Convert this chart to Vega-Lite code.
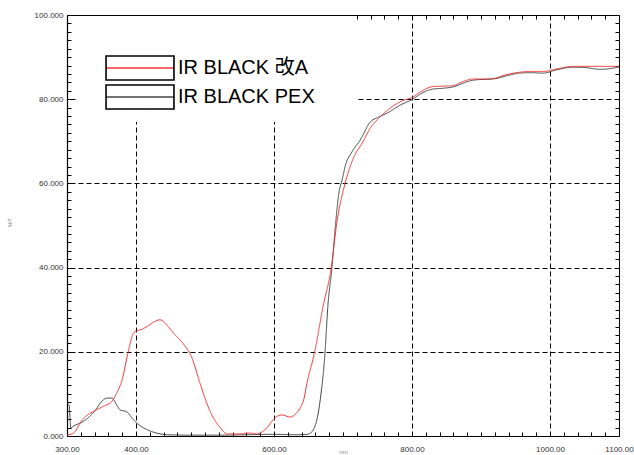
{
  "$schema": "https://vega.github.io/schema/vega-lite/v6.json",
  "width": 552,
  "height": 421,
  "autosize": {"type": "none"},
  "padding": {"left": 67, "top": 15, "right": 15, "bottom": 19},
  "background": "white",
  "config": {"view": {"stroke": null}, "font": "Liberation Sans"},
  "data": {"values": [
    {"nm": 300, "T": 7.8, "series": "IR BLACK PEX"},
    {"nm": 303, "T": 7.4, "series": "IR BLACK PEX"},
    {"nm": 305.5, "T": 1.9, "series": "IR BLACK PEX"},
    {"nm": 309, "T": 2.3, "series": "IR BLACK PEX"},
    {"nm": 324, "T": 3.5, "series": "IR BLACK PEX"},
    {"nm": 338, "T": 5.5, "series": "IR BLACK PEX"},
    {"nm": 353, "T": 8.6, "series": "IR BLACK PEX"},
    {"nm": 358, "T": 9.0, "series": "IR BLACK PEX"},
    {"nm": 365, "T": 9.0, "series": "IR BLACK PEX"},
    {"nm": 372, "T": 7.4, "series": "IR BLACK PEX"},
    {"nm": 377, "T": 6.2, "series": "IR BLACK PEX"},
    {"nm": 387, "T": 5.7, "series": "IR BLACK PEX"},
    {"nm": 394, "T": 4.3, "series": "IR BLACK PEX"},
    {"nm": 401, "T": 3.1, "series": "IR BLACK PEX"},
    {"nm": 416, "T": 1.5, "series": "IR BLACK PEX"},
    {"nm": 430, "T": 0.7, "series": "IR BLACK PEX"},
    {"nm": 445, "T": 0.3, "series": "IR BLACK PEX"},
    {"nm": 480, "T": 0.2, "series": "IR BLACK PEX"},
    {"nm": 520, "T": 0.2, "series": "IR BLACK PEX"},
    {"nm": 560, "T": 0.3, "series": "IR BLACK PEX"},
    {"nm": 600, "T": 0.4, "series": "IR BLACK PEX"},
    {"nm": 630, "T": 0.3, "series": "IR BLACK PEX"},
    {"nm": 648, "T": 0.4, "series": "IR BLACK PEX"},
    {"nm": 655, "T": 1.0, "series": "IR BLACK PEX"},
    {"nm": 659, "T": 2.2, "series": "IR BLACK PEX"},
    {"nm": 663, "T": 4.5, "series": "IR BLACK PEX"},
    {"nm": 667, "T": 8.6, "series": "IR BLACK PEX"},
    {"nm": 674, "T": 20, "series": "IR BLACK PEX"},
    {"nm": 678, "T": 30.7, "series": "IR BLACK PEX"},
    {"nm": 684, "T": 40, "series": "IR BLACK PEX"},
    {"nm": 688, "T": 48, "series": "IR BLACK PEX"},
    {"nm": 694, "T": 57.7, "series": "IR BLACK PEX"},
    {"nm": 699, "T": 61, "series": "IR BLACK PEX"},
    {"nm": 703, "T": 64, "series": "IR BLACK PEX"},
    {"nm": 713, "T": 67.5, "series": "IR BLACK PEX"},
    {"nm": 725, "T": 70.3, "series": "IR BLACK PEX"},
    {"nm": 739, "T": 74.5, "series": "IR BLACK PEX"},
    {"nm": 751, "T": 75.7, "series": "IR BLACK PEX"},
    {"nm": 764, "T": 76.7, "series": "IR BLACK PEX"},
    {"nm": 783, "T": 78.6, "series": "IR BLACK PEX"},
    {"nm": 801, "T": 80.0, "series": "IR BLACK PEX"},
    {"nm": 815, "T": 81.5, "series": "IR BLACK PEX"},
    {"nm": 830, "T": 82.4, "series": "IR BLACK PEX"},
    {"nm": 845, "T": 82.6, "series": "IR BLACK PEX"},
    {"nm": 859, "T": 82.9, "series": "IR BLACK PEX"},
    {"nm": 874, "T": 83.8, "series": "IR BLACK PEX"},
    {"nm": 888, "T": 84.5, "series": "IR BLACK PEX"},
    {"nm": 903, "T": 84.7, "series": "IR BLACK PEX"},
    {"nm": 917, "T": 84.8, "series": "IR BLACK PEX"},
    {"nm": 936, "T": 85.5, "series": "IR BLACK PEX"},
    {"nm": 956, "T": 86.2, "series": "IR BLACK PEX"},
    {"nm": 973, "T": 86.3, "series": "IR BLACK PEX"},
    {"nm": 990, "T": 86.2, "series": "IR BLACK PEX"},
    {"nm": 1010, "T": 87.0, "series": "IR BLACK PEX"},
    {"nm": 1033, "T": 87.6, "series": "IR BLACK PEX"},
    {"nm": 1052, "T": 87.5, "series": "IR BLACK PEX"},
    {"nm": 1072, "T": 87.1, "series": "IR BLACK PEX"},
    {"nm": 1100, "T": 87.6, "series": "IR BLACK PEX"},
    {"nm": 300, "T": 0.3, "series": "IR BLACK 改A"},
    {"nm": 307, "T": 0.5, "series": "IR BLACK 改A"},
    {"nm": 312, "T": 1.1, "series": "IR BLACK 改A"},
    {"nm": 319, "T": 3.1, "series": "IR BLACK 改A"},
    {"nm": 326, "T": 4.5, "series": "IR BLACK 改A"},
    {"nm": 338, "T": 5.8, "series": "IR BLACK 改A"},
    {"nm": 352, "T": 7.0, "series": "IR BLACK 改A"},
    {"nm": 365, "T": 8.2, "series": "IR BLACK 改A"},
    {"nm": 372, "T": 10.2, "series": "IR BLACK 改A"},
    {"nm": 380, "T": 13.4, "series": "IR BLACK 改A"},
    {"nm": 388, "T": 19.5, "series": "IR BLACK 改A"},
    {"nm": 396, "T": 24.3, "series": "IR BLACK 改A"},
    {"nm": 401, "T": 25.0, "series": "IR BLACK 改A"},
    {"nm": 408, "T": 25.3, "series": "IR BLACK 改A"},
    {"nm": 416, "T": 26.0, "series": "IR BLACK 改A"},
    {"nm": 425, "T": 27.0, "series": "IR BLACK 改A"},
    {"nm": 435, "T": 27.6, "series": "IR BLACK 改A"},
    {"nm": 445, "T": 26.3, "series": "IR BLACK 改A"},
    {"nm": 454, "T": 24.5, "series": "IR BLACK 改A"},
    {"nm": 468, "T": 22.0, "series": "IR BLACK 改A"},
    {"nm": 481, "T": 18.6, "series": "IR BLACK 改A"},
    {"nm": 493, "T": 12.4, "series": "IR BLACK 改A"},
    {"nm": 507, "T": 6.0, "series": "IR BLACK 改A"},
    {"nm": 522, "T": 2.0, "series": "IR BLACK 改A"},
    {"nm": 532, "T": 0.5, "series": "IR BLACK 改A"},
    {"nm": 550, "T": 0.5, "series": "IR BLACK 改A"},
    {"nm": 565, "T": 0.7, "series": "IR BLACK 改A"},
    {"nm": 575, "T": 0.5, "series": "IR BLACK 改A"},
    {"nm": 583, "T": 1.0, "series": "IR BLACK 改A"},
    {"nm": 590, "T": 2.0, "series": "IR BLACK 改A"},
    {"nm": 599, "T": 3.9, "series": "IR BLACK 改A"},
    {"nm": 606, "T": 4.8, "series": "IR BLACK 改A"},
    {"nm": 612, "T": 5.0, "series": "IR BLACK 改A"},
    {"nm": 623, "T": 4.5, "series": "IR BLACK 改A"},
    {"nm": 631, "T": 5.2, "series": "IR BLACK 改A"},
    {"nm": 638, "T": 6.7, "series": "IR BLACK 改A"},
    {"nm": 643, "T": 8.6, "series": "IR BLACK 改A"},
    {"nm": 648, "T": 12.7, "series": "IR BLACK 改A"},
    {"nm": 659, "T": 20, "series": "IR BLACK 改A"},
    {"nm": 671, "T": 30.7, "series": "IR BLACK 改A"},
    {"nm": 683, "T": 40, "series": "IR BLACK 改A"},
    {"nm": 691, "T": 50.6, "series": "IR BLACK 改A"},
    {"nm": 703, "T": 60, "series": "IR BLACK 改A"},
    {"nm": 714, "T": 65.6, "series": "IR BLACK 改A"},
    {"nm": 729, "T": 69.9, "series": "IR BLACK 改A"},
    {"nm": 739, "T": 73.0, "series": "IR BLACK 改A"},
    {"nm": 752, "T": 75.5, "series": "IR BLACK 改A"},
    {"nm": 764, "T": 77.3, "series": "IR BLACK 改A"},
    {"nm": 783, "T": 79.4, "series": "IR BLACK 改A"},
    {"nm": 801, "T": 80.5, "series": "IR BLACK 改A"},
    {"nm": 815, "T": 82.0, "series": "IR BLACK 改A"},
    {"nm": 830, "T": 83.0, "series": "IR BLACK 改A"},
    {"nm": 845, "T": 83.1, "series": "IR BLACK 改A"},
    {"nm": 859, "T": 83.2, "series": "IR BLACK 改A"},
    {"nm": 874, "T": 84.2, "series": "IR BLACK 改A"},
    {"nm": 888, "T": 84.8, "series": "IR BLACK 改A"},
    {"nm": 903, "T": 84.8, "series": "IR BLACK 改A"},
    {"nm": 917, "T": 84.9, "series": "IR BLACK 改A"},
    {"nm": 936, "T": 85.8, "series": "IR BLACK 改A"},
    {"nm": 956, "T": 86.4, "series": "IR BLACK 改A"},
    {"nm": 973, "T": 86.6, "series": "IR BLACK 改A"},
    {"nm": 990, "T": 86.6, "series": "IR BLACK 改A"},
    {"nm": 1010, "T": 87.2, "series": "IR BLACK 改A"},
    {"nm": 1033, "T": 87.8, "series": "IR BLACK 改A"},
    {"nm": 1052, "T": 87.8, "series": "IR BLACK 改A"},
    {"nm": 1072, "T": 87.8, "series": "IR BLACK 改A"},
    {"nm": 1100, "T": 87.8, "series": "IR BLACK 改A"}
  ]},
  "layer": [
    {
      "mark": {"type": "line", "opacity": 0},
      "encoding": {
        "x": {"field": "nm", "type": "quantitative", "scale": {"domain": [300, 1100], "nice": false, "zero": false},
          "axis": {"orient": "top", "values": [300,320,340,360,380,400,420,440,460,480,500,520,540,560,580,600,620,640,660,680,700,720,740,760,780,800,820,840,860,880,900,920,940,960,980,1000,1020,1040,1060,1080,1100],
            "labels": false, "title": null, "tickSize": -4, "tickColor": "#000", "domainColor": "#000", "domainWidth": 1,
            "grid": true, "gridColor": "#000", "gridDash": [5, 3], "gridWidth": 1,
            "gridOpacity": {"condition": {"test": "indexof([400,600,800,1000], datum.value) >= 0", "value": 1}, "value": 0}}},
        "y": {"field": "T", "type": "quantitative", "scale": {"domain": [0, 100], "nice": false},
          "axis": {"orient": "right", "values": [0,2,4,6,8,10,12,14,16,18,20,22,24,26,28,30,32,34,36,38,40,42,44,46,48,50,52,54,56,58,60,62,64,66,68,70,72,74,76,78,80,82,84,86,88,90,92,94,96,98,100],
            "labels": false, "title": null, "tickSize": -4, "tickColor": "#000", "domainColor": "#000", "domainWidth": 1,
            "grid": true, "gridColor": "#000", "gridDash": [5, 3], "gridWidth": 1,
            "gridOpacity": {"condition": {"test": "indexof([20,40,60,80], datum.value) >= 0", "value": 1}, "value": 0}}}
      }
    },
    {
      "transform": [{"calculate": "datum.series", "as": "frame"}],
      "mark": {"type": "line", "strokeWidth": 1, "interpolate": "monotone"},
      "encoding": {
        "x": {"field": "nm", "type": "quantitative",
          "axis": {"orient": "bottom", "values": [300,320,340,360,380,400,420,440,460,480,500,520,540,560,580,600,620,640,660,680,700,720,740,760,780,800,820,840,860,880,900,920,940,960,980,1000,1020,1040,1060,1080,1100],
            "labelExpr": "indexof([300,400,600,800,1000,1100], datum.value) >= 0 ? format(datum.value, '.2f') : ''",
            "tickSize": -4,
            "tickColor": "#000", "domainColor": "#000", "domainWidth": 1.2, "grid": false,
            "labelFontSize": 8, "labelColor": "#333", "labelPadding": 13, "labelOverlap": false, "labelBound": false, "labelFlush": false,
            "title": "nm", "titleFontSize": 6, "titleColor": "#888", "titleFontWeight": "normal", "titleY": 12, "titleBaseline": "top"}},
        "y": {"field": "T", "type": "quantitative",
          "axis": {"orient": "left", "values": [0,2,4,6,8,10,12,14,16,18,20,22,24,26,28,30,32,34,36,38,40,42,44,46,48,50,52,54,56,58,60,62,64,66,68,70,72,74,76,78,80,82,84,86,88,90,92,94,96,98,100],
            "labelExpr": "datum.value % 20 === 0 ? format(datum.value, '.3f') : ''",
            "tickSize": -4,
            "tickColor": "#000", "domainColor": "#000", "domainWidth": 1.2, "grid": false,
            "labelFontSize": 8, "labelColor": "#333", "labelPadding": 8, "labelOverlap": false, "labelBound": false, "labelFlush": false,
            "title": "%T", "titleFontSize": 6, "titleColor": "#777", "titleFontWeight": "normal", "titleX": -55, "titleY": 207}},
        "color": {"field": "series", "type": "nominal",
          "scale": {"domain": ["IR BLACK 改A", "IR BLACK PEX"], "range": ["#f03535", "#444444"]},
          "legend": {"orient": "none", "legendX": 11, "legendY": 1, "title": "MMMMMMMMMMMMM", "titleFontSize": 24, "titlePadding": 6, "titleOpacity": 0, "titleLimit": 600, "fillColor": "white", "padding": 9,
            "symbolType": "M-2.83,-1M-2.83,0H2.83M2.83,1", "symbolSize": 576, "symbolStrokeWidth": 1.6, "symbolOffset": 40, "symbolFillColor": "transparent",
            "labelOffset": 25, "labelFontSize": 20, "labelFont": "Liberation Sans, Noto Sans CJK JP", "labelColor": "#000", "labelLimit": 500,
            "rowPadding": -4}},
        "strokeDash": {"field": "frame", "type": "nominal", "sort": "descending",
          "scale": {"range": [[1, 0], [1, 0]]},
          "legend": {"orient": "none", "legendX": 11, "legendY": 1, "title": "MMMMMMMMMMMMM", "titleFontSize": 24, "titlePadding": 6, "titleOpacity": 0, "titleLimit": 600, "padding": 9,
            "symbolType": "M-2.83,-1H2.83V1H-2.83Z", "symbolSize": 576, "symbolStrokeWidth": 1.6, "symbolOffset": 40, "symbolStrokeColor": "#000", "symbolFillColor": "transparent",
            "labelOffset": 25, "labelFontSize": 20, "labelFont": "Liberation Sans, Noto Sans CJK JP", "labelColor": "#000", "labelOpacity": 0, "labelLimit": 500,
            "rowPadding": -4}}
      }
    }
  ],
  "resolve": {"axis": {"x": "independent", "y": "independent"}}
}
